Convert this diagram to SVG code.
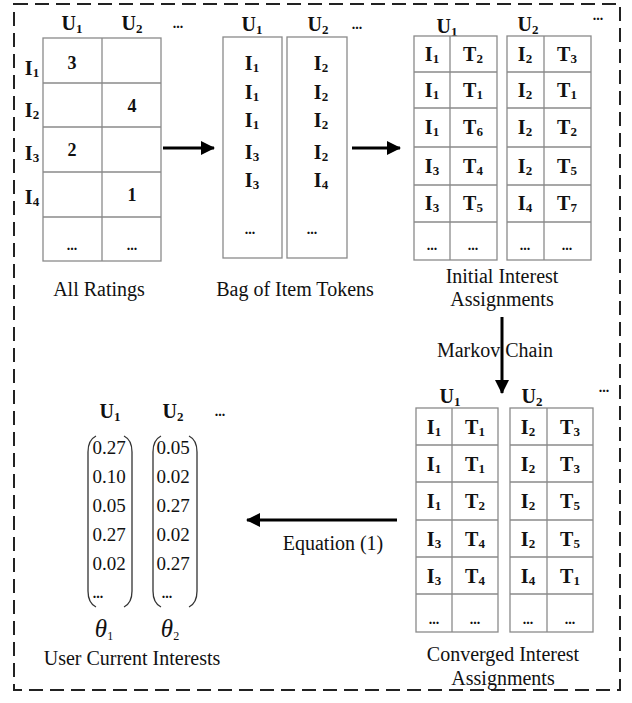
<svg xmlns="http://www.w3.org/2000/svg" width="632" height="703" viewBox="0 0 632 703">
  <style>
    text { font-family: "Liberation Serif", "Times New Roman", serif; fill: #111; }
    .hd { font-size: 20px; font-weight: bold; text-anchor: middle; }
    .it { font-size: 20px; font-weight: bold; text-anchor: middle; dominant-baseline: central; }
    .num { font-size: 18px; font-weight: bold; text-anchor: middle; dominant-baseline: central; }
    .dots { font-size: 14px; font-weight: bold; text-anchor: middle; }
    .cap { font-size: 20px; text-anchor: middle; }
    .vec { font-size: 19px; text-anchor: middle; dominant-baseline: central; }
    .theta { font-size: 25px; font-style: italic; text-anchor: middle; }
    .cell { fill: #fff; stroke: #8a8a8a; stroke-width: 1.3; }
    .grid { stroke: #8a8a8a; stroke-width: 1.3; }
    .paren { fill: none; stroke: #333; stroke-width: 1.3; }
    .conn { stroke: #000; stroke-width: 3; fill: none; }
  </style>
  <defs>
    <marker id="head" markerUnits="userSpaceOnUse" markerWidth="14" markerHeight="14" viewBox="0 0 14 14" refX="13" refY="7" orient="auto">
      <path d="M0,0 L14,7 L0,14 Z" fill="#000"/>
    </marker>
  </defs>

  <!-- outer dashed frame -->
  <rect x="14" y="4" width="606" height="686" fill="none" stroke="#222" stroke-width="2" stroke-dasharray="14 7"/>

  <!-- All Ratings matrix -->
  <g id="all-ratings">
    <text class="hd" x="72" y="30">U<tspan font-size="13" dy="3">1</tspan></text>
    <text class="hd" x="132" y="30">U<tspan font-size="13" dy="3">2</tspan></text>
    <text class="dots" x="178" y="28">...</text>
    <rect class="cell" x="43" y="38" width="118" height="223"/>
    <line class="grid" x1="102" y1="38" x2="102" y2="261"/>
    <line class="grid" x1="43" y1="83" x2="161" y2="83"/>
    <line class="grid" x1="43" y1="127" x2="161" y2="127"/>
    <line class="grid" x1="43" y1="172" x2="161" y2="172"/>
    <line class="grid" x1="43" y1="217" x2="161" y2="217"/>
    <text class="it" x="32" y="68">I<tspan font-size="13" dy="4">1</tspan></text>
    <text class="it" x="32" y="110">I<tspan font-size="13" dy="4">2</tspan></text>
    <text class="it" x="32" y="153">I<tspan font-size="13" dy="4">3</tspan></text>
    <text class="it" x="32" y="197">I<tspan font-size="13" dy="4">4</tspan></text>
    <text class="num" x="72" y="63">3</text>
    <text class="num" x="132" y="106">4</text>
    <text class="num" x="72" y="150">2</text>
    <text class="num" x="132" y="195">1</text>
    <text class="dots" x="72" y="250">...</text>
    <text class="dots" x="132" y="250">...</text>
    <text class="cap" x="99" y="296">All Ratings</text>
  </g>

  <!-- Bag of item tokens -->
  <g id="bag-of-tokens">
    <text class="hd" x="252" y="31">U<tspan font-size="13" dy="3">1</tspan></text>
    <text class="hd" x="318" y="31">U<tspan font-size="13" dy="3">2</tspan></text>
    <text class="dots" x="357" y="29">...</text>
    <rect class="cell" x="223" y="37" width="59" height="221"/>
    <rect class="cell" x="287" y="37" width="60" height="221"/>
    <text class="it" x="252" y="63">I<tspan font-size="13" dy="4">1</tspan></text>
    <text class="it" x="252" y="92">I<tspan font-size="13" dy="4">1</tspan></text>
    <text class="it" x="252" y="120">I<tspan font-size="13" dy="4">1</tspan></text>
    <text class="it" x="252" y="152">I<tspan font-size="13" dy="4">3</tspan></text>
    <text class="it" x="252" y="180">I<tspan font-size="13" dy="4">3</tspan></text>
    <text class="dots" x="250" y="234">...</text>
    <text class="it" x="321" y="63">I<tspan font-size="13" dy="4">2</tspan></text>
    <text class="it" x="321" y="92">I<tspan font-size="13" dy="4">2</tspan></text>
    <text class="it" x="321" y="120">I<tspan font-size="13" dy="4">2</tspan></text>
    <text class="it" x="321" y="152">I<tspan font-size="13" dy="4">2</tspan></text>
    <text class="it" x="321" y="180">I<tspan font-size="13" dy="4">4</tspan></text>
    <text class="dots" x="312" y="234">...</text>
    <text class="cap" x="295" y="296">Bag of Item Tokens</text>
  </g>

  <!-- Initial interest assignments -->
  <g id="initial-assignments">
    <text class="hd" x="447" y="33">U<tspan font-size="13" dy="3">1</tspan></text>
    <text class="hd" x="528" y="31">U<tspan font-size="13" dy="3">2</tspan></text>
    <text class="dots" x="598" y="20">...</text>
    <rect class="cell" x="414" y="36" width="83" height="224"/>
    <line class="grid" x1="450" y1="36" x2="450" y2="260"/>
    <rect class="cell" x="507" y="36" width="84" height="224"/>
    <line class="grid" x1="544" y1="36" x2="544" y2="260"/>
    <path class="grid" d="M414 72H497M414 108H497M414 147H497M414 185H497M414 222H497M507 72H591M507 108H591M507 147H591M507 185H591M507 222H591"/>
    <text class="it" x="432" y="54">I<tspan font-size="13" dy="4">1</tspan></text>
    <text class="it" x="432" y="90">I<tspan font-size="13" dy="4">1</tspan></text>
    <text class="it" x="432" y="127">I<tspan font-size="13" dy="4">1</tspan></text>
    <text class="it" x="432" y="166">I<tspan font-size="13" dy="4">3</tspan></text>
    <text class="it" x="432" y="203">I<tspan font-size="13" dy="4">3</tspan></text>
    <text class="it" x="473" y="54">T<tspan font-size="13" dy="4">2</tspan></text>
    <text class="it" x="473" y="90">T<tspan font-size="13" dy="4">1</tspan></text>
    <text class="it" x="473" y="127">T<tspan font-size="13" dy="4">6</tspan></text>
    <text class="it" x="473" y="166">T<tspan font-size="13" dy="4">4</tspan></text>
    <text class="it" x="473" y="203">T<tspan font-size="13" dy="4">5</tspan></text>
    <text class="dots" x="432" y="250">...</text>
    <text class="dots" x="473" y="250">...</text>
    <text class="it" x="525" y="54">I<tspan font-size="13" dy="4">2</tspan></text>
    <text class="it" x="525" y="90">I<tspan font-size="13" dy="4">2</tspan></text>
    <text class="it" x="525" y="127">I<tspan font-size="13" dy="4">2</tspan></text>
    <text class="it" x="525" y="166">I<tspan font-size="13" dy="4">2</tspan></text>
    <text class="it" x="525" y="203">I<tspan font-size="13" dy="4">4</tspan></text>
    <text class="it" x="567" y="54">T<tspan font-size="13" dy="4">3</tspan></text>
    <text class="it" x="567" y="90">T<tspan font-size="13" dy="4">1</tspan></text>
    <text class="it" x="567" y="127">T<tspan font-size="13" dy="4">2</tspan></text>
    <text class="it" x="567" y="166">T<tspan font-size="13" dy="4">5</tspan></text>
    <text class="it" x="567" y="203">T<tspan font-size="13" dy="4">7</tspan></text>
    <text class="dots" x="525" y="250">...</text>
    <text class="dots" x="567" y="250">...</text>
    <text class="cap" x="502" y="283">Initial Interest</text>
    <text class="cap" x="502" y="306">Assignments</text>
  </g>

  <!-- Converged interest assignments -->
  <g id="converged-assignments">
    <text class="hd" x="450" y="403">U<tspan font-size="13" dy="3">1</tspan></text>
    <text class="hd" x="532" y="403">U<tspan font-size="13" dy="3">2</tspan></text>
    <text class="dots" x="604" y="392">...</text>
    <rect class="cell" x="416" y="408" width="82" height="224"/>
    <line class="grid" x1="452" y1="408" x2="452" y2="632"/>
    <rect class="cell" x="510" y="408" width="83" height="224"/>
    <line class="grid" x1="547" y1="408" x2="547" y2="632"/>
    <path class="grid" d="M416 445H498M416 482H498M416 520H498M416 557H498M416 594H498M510 445H593M510 482H593M510 520H593M510 557H593M510 594H593"/>
    <text class="it" x="434" y="427">I<tspan font-size="13" dy="4">1</tspan></text>
    <text class="it" x="434" y="464">I<tspan font-size="13" dy="4">1</tspan></text>
    <text class="it" x="434" y="501">I<tspan font-size="13" dy="4">1</tspan></text>
    <text class="it" x="434" y="539" font-size="22">I<tspan font-size="13" dy="4">3</tspan></text>
    <text class="it" x="434" y="576">I<tspan font-size="13" dy="4">3</tspan></text>
    <text class="it" x="475" y="427">T<tspan font-size="13" dy="4">1</tspan></text>
    <text class="it" x="475" y="464">T<tspan font-size="13" dy="4">1</tspan></text>
    <text class="it" x="475" y="501">T<tspan font-size="13" dy="4">2</tspan></text>
    <text class="it" x="475" y="539">T<tspan font-size="13" dy="4">4</tspan></text>
    <text class="it" x="475" y="576">T<tspan font-size="13" dy="4">4</tspan></text>
    <text class="dots" x="434" y="624">...</text>
    <text class="dots" x="475" y="624">...</text>
    <text class="it" x="528" y="427">I<tspan font-size="13" dy="4">2</tspan></text>
    <text class="it" x="528" y="464">I<tspan font-size="13" dy="4">2</tspan></text>
    <text class="it" x="528" y="501">I<tspan font-size="13" dy="4">2</tspan></text>
    <text class="it" x="528" y="539">I<tspan font-size="13" dy="4">2</tspan></text>
    <text class="it" x="528" y="576">I<tspan font-size="13" dy="4">4</tspan></text>
    <text class="it" x="570" y="427">T<tspan font-size="13" dy="4">3</tspan></text>
    <text class="it" x="570" y="464">T<tspan font-size="13" dy="4">3</tspan></text>
    <text class="it" x="570" y="501">T<tspan font-size="13" dy="4">5</tspan></text>
    <text class="it" x="570" y="539">T<tspan font-size="13" dy="4">5</tspan></text>
    <text class="it" x="570" y="576">T<tspan font-size="13" dy="4">1</tspan></text>
    <text class="dots" x="528" y="624">...</text>
    <text class="dots" x="570" y="624">...</text>
    <text class="cap" x="503" y="661">Converged Interest</text>
    <text class="cap" x="503" y="685">Assignments</text>
  </g>

  <!-- User current interest vectors -->
  <g id="user-interests">
    <text class="hd" x="110" y="418">U<tspan font-size="13" dy="3">1</tspan></text>
    <text class="hd" x="173" y="418">U<tspan font-size="13" dy="3">2</tspan></text>
    <text class="dots" x="220" y="416">...</text>
    <path class="paren" d="M96 436Q88 440 88 452V591Q88 603 96 607"/>
    <path class="paren" d="M124 436Q132 440 132 452V591Q132 603 124 607"/>
    <path class="paren" d="M161 436Q153 440 153 452V591Q153 603 161 607"/>
    <path class="paren" d="M189 436Q197 440 197 452V591Q197 603 189 607"/>
    <text class="vec" x="109" y="447">0.27</text>
    <text class="vec" x="109" y="476">0.10</text>
    <text class="vec" x="109" y="505">0.05</text>
    <text class="vec" x="109" y="534">0.27</text>
    <text class="vec" x="109" y="563">0.02</text>
    <text class="dots" x="98" y="598">...</text>
    <text class="vec" x="173" y="447">0.05</text>
    <text class="vec" x="173" y="476">0.02</text>
    <text class="vec" x="173" y="505">0.27</text>
    <text class="vec" x="173" y="534">0.02</text>
    <text class="vec" x="173" y="563">0.27</text>
    <text class="dots" x="167" y="598">...</text>
    <text class="theta" x="104" y="637">θ<tspan font-size="12" font-style="normal" dy="3">1</tspan></text>
    <text class="theta" x="170" y="637">θ<tspan font-size="12" font-style="normal" dy="3">2</tspan></text>
    <text class="cap" x="132" y="665">User Current Interests</text>
  </g>

  <!-- connectors -->
  <g id="connectors">
    <line class="conn" x1="163" y1="148" x2="214" y2="148" marker-end="url(#head)"/>
    <line class="conn" x1="352" y1="148" x2="400" y2="148" marker-end="url(#head)"/>
    <line class="conn" x1="502" y1="317" x2="502" y2="393" marker-end="url(#head)"/>
    <line class="conn" x1="397" y1="520" x2="247" y2="520" marker-end="url(#head)"/>
    <text class="cap" x="495" y="357">Markov Chain</text>
    <text class="cap" x="333" y="550">Equation (1)</text>
  </g>
</svg>
